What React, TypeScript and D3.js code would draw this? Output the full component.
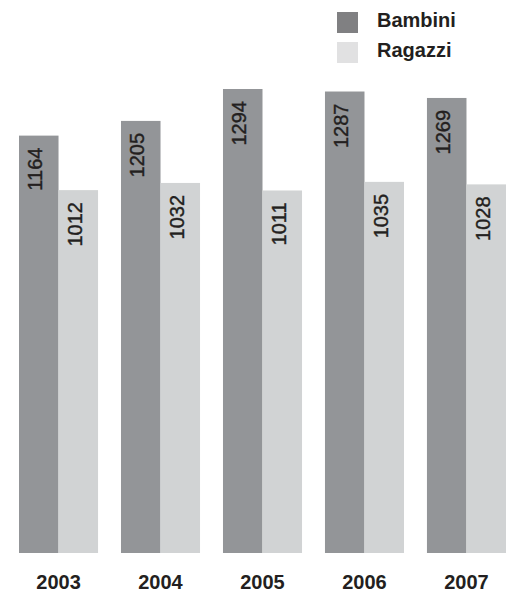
import React from 'react'
import * as d3 from 'd3'

const years = ['2003', '2004', '2005', '2006', '2007']
const bambini = [1164, 1205, 1294, 1287, 1269]
const ragazzi = [1012, 1032, 1011, 1035, 1028]
const seriesNames = ['Bambini', 'Ragazzi']

const barColors = ['#939598', '#d1d3d4']
const legendColors = ['#808082', '#e1e1e2']
const textColor = '#231f20'
const font = '"Liberation Sans", Arial, Helvetica, sans-serif'

export default function App() {
  const width = 526
  const height = 594
  const bottom = 553

  // group positions
  const x = d3.scaleBand()
    .domain(years)
    .range([19, 506])
    .paddingInner(0.225)
    .paddingOuter(0)

  const inner = d3.scaleBand()
    .domain(seriesNames)
    .range([0, x.bandwidth()])

  const y = d3.scaleLinear()
    .domain([0, 1294])
    .range([bottom, 89])

  const rows = years.map((yr, i) => ({ year: yr, values: [bambini[i], ragazzi[i]] }))

  return (
    <svg width={width} height={height} style={{ position: 'absolute', left: 0, top: 0, background: '#fff' }}>
      <g id="bars">
        {rows.map(row => (
          <g key={row.year} transform={`translate(${x(row.year)},0)`}>
            {row.values.map((v, j) => {
              const bx = inner(seriesNames[j])!
              const bw = inner.bandwidth()
              const cx = bx + bw / 2
              const top = y(v)
              return (
                <g key={j}>
                  <rect x={bx} y={top} width={bw} height={y(0) - top} fill={barColors[j]} />
                  <text
                    transform={`translate(${cx},${top + 12}) rotate(-90)`}
                    dy={3.5}
                    textAnchor="end"
                    fontFamily={font}
                    fontSize={20}
                    fill={textColor}
                    stroke={textColor}
                    strokeWidth={0.4}
                  >
                    {v}
                  </text>
                </g>
              )
            })}
          </g>
        ))}
      </g>
      <g id="xaxis">
        {years.map(yr => (
          <text
            key={yr}
            x={x(yr)! + x.bandwidth() / 2}
            y={589}
            textAnchor="middle"
            fontFamily={font}
            fontSize={20}
            fontWeight="bold"
            fill={textColor}
          >
            {yr}
          </text>
        ))}
      </g>
      <g id="legend">
        {seriesNames.map((name, i) => (
          <g key={name} transform={`translate(337,${12 + i * 30})`}>
            <rect width={21} height={21} fill={legendColors[i]} />
            <text x={40} y={15} fontFamily={font} fontSize={20} fontWeight="bold" fill={textColor}>
              {name}
            </text>
          </g>
        ))}
      </g>
    </svg>
  )
}
